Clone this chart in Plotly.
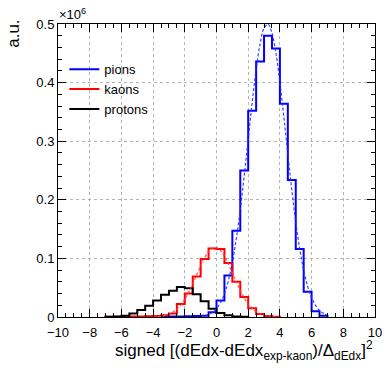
import plotly.graph_objects as go

# ---------------- data (values in units of 10^6 entries) ----------------
BIN_W = 0.5
pion_first_edge = -4.5
pion_vals = [0.0003, 0.0005, 0.0007, 0.001, 0.001, 0.0012, 0.0015, 0.002,
             0.008, 0.028, 0.071, 0.147, 0.250, 0.352, 0.436, 0.480, 0.458,
             0.364, 0.234, 0.116, 0.043, 0.010, 0.002]

kaon_first_edge = -7.0
kaon_vals = [0.0003, 0.0003, 0.0005, 0.0007, 0.001, 0.0012, 0.0015, 0.003,
             0.006, 0.022, 0.040, 0.069, 0.099, 0.117, 0.116, 0.092, 0.060,
             0.034, 0.015, 0.005, 0.0015, 0.0005]

proton_first_edge = -7.0
proton_vals = [0.0003, 0.001, 0.002, 0.006, 0.012, 0.019, 0.028, 0.038,
               0.045, 0.051, 0.049, 0.039, 0.027, 0.014, 0.007, 0.003,
               0.001, 0.0003]

# dashed fit curves
pion_fit_x = [-1.0, -0.75, -0.5, -0.25, 0.0, 0.25, 0.5, 0.75, 1.0, 1.25, 1.5,
              1.75, 2.0, 2.25, 2.5, 2.75, 3.0, 3.25, 3.5, 3.75, 4.0, 4.25,
              4.5, 4.75, 5.0, 5.25, 5.5, 5.75, 6.0, 6.25, 6.5, 6.75, 7.0]
pion_fit_y = [0.0011, 0.0022, 0.0043, 0.0080, 0.0143, 0.0244, 0.0398, 0.0622,
              0.0931, 0.1336, 0.1834, 0.2410, 0.3033, 0.3655, 0.4218, 0.4661,
              0.4931, 0.4996, 0.4846, 0.4502, 0.4004, 0.3410, 0.2781, 0.2171,
              0.1623, 0.1162, 0.0797, 0.0523, 0.0329, 0.0198, 0.0114, 0.0063,
              0.0033]

kaon_fit_x = [-4.0, -3.75, -3.5, -3.25, -3.0, -2.75, -2.5, -2.25, -2.0, -1.75,
              -1.5, -1.25, -1.0, -0.75, -0.5, -0.25, 0.0, 0.25, 0.5, 0.75,
              1.0, 1.25, 1.5, 1.75, 2.0, 2.25, 2.5, 2.75, 3.0, 3.25, 3.5,
              3.75, 4.0]
kaon_fit_y = [0.0004, 0.0008, 0.0015, 0.0028, 0.0050, 0.0084, 0.0135, 0.0207,
              0.0304, 0.0425, 0.0567, 0.0722, 0.0876, 0.1014, 0.1120, 0.1180,
              0.1185, 0.1136, 0.1039, 0.0906, 0.0753, 0.0598, 0.0452, 0.0326,
              0.0225, 0.0148, 0.0092, 0.0055, 0.0031, 0.0017, 0.0009, 0.0004,
              0.0002]

x_tickvals = [-10, -8, -6, -4, -2, 0, 2, 4, 6, 8, 10]
y_tickvals = [0, 0.1, 0.2, 0.3, 0.4, 0.5]
y_ticktext = ["0", "0.1", "0.2", "0.3", "0.4", "0.5"]


def step_xy(first_edge, vals):
    xs, ys = [first_edge], [0.0]
    for i, v in enumerate(vals):
        xs.append(first_edge + i * BIN_W)
        ys.append(v)
    xs.append(first_edge + len(vals) * BIN_W)
    ys.append(vals[-1])
    xs.append(first_edge + len(vals) * BIN_W)
    ys.append(0.0)
    return xs, ys


FONT = "Liberation Sans, Arial, Helvetica, sans-serif"
fig = go.Figure()

for name, fe, vals, col in [("pions", pion_first_edge, pion_vals, "#0000ff"),
                            ("kaons", kaon_first_edge, kaon_vals, "#ff0000"),
                            ("protons", proton_first_edge, proton_vals, "#000000")]:
    xs, ys = step_xy(fe, vals)
    fig.add_trace(go.Scatter(x=xs, y=ys, mode="lines", name=name,
                             line=dict(color=col, width=2, shape="hv")))

fig.add_trace(go.Scatter(x=pion_fit_x, y=pion_fit_y, mode="lines", showlegend=False,
                         line=dict(color="rgba(40,40,255,0.9)", width=1.2, dash="3px,2px", shape="spline")))
fig.add_trace(go.Scatter(x=kaon_fit_x, y=kaon_fit_y, mode="lines", showlegend=False,
                         line=dict(color="rgba(255,60,60,0.9)", width=1.2, dash="3px,2px", shape="spline")))

# white box behind legend (hides grid lines)
fig.add_shape(type="rect", xref="paper", yref="paper",
              x0=0.046, x1=0.435, y0=0.678, y1=0.877,
              fillcolor="white", line=dict(width=0), layer="between")

axis_common = dict(showline=True, linecolor="black", linewidth=1, mirror="allticks",
                   ticks="inside", ticklen=8, tickcolor="black", tickwidth=1,
                   showgrid=True, gridcolor="#b4b4b4", griddash="dot", gridwidth=1,
                   zeroline=False, tickfont=dict(family=FONT, size=13, color="black"))

fig.update_xaxes(range=[-10, 10], tickvals=x_tickvals, ticklabeloverflow="allow",
                 ticklabelstandoff=3,
                 minor=dict(ticks="inside", ticklen=4, dtick=0.5, tick0=0,
                            tickcolor="black", showgrid=False),
                 **axis_common)
fig.update_yaxes(range=[0, 0.5], tickvals=y_tickvals, ticktext=y_ticktext,
                 minor=dict(ticks="inside", ticklen=4, dtick=0.02, tick0=0,
                            tickcolor="black", showgrid=False),
                 **axis_common)

fig.add_annotation(text="a.u.", xref="paper", yref="paper", x=-0.14, y=1.02,
                   xanchor="center", yanchor="top", textangle=-90, showarrow=False,
                   font=dict(family=FONT, size=17, color="black"))
fig.add_annotation(text="×10<sup>6</sup>", xref="paper", yref="paper", x=-0.003, y=1.0,
                   xanchor="left", yanchor="bottom", showarrow=False,
                   font=dict(family=FONT, size=13, color="black"))
fig.add_annotation(text="signed [(dEdx-dEdx<sub>exp-kaon</sub>)/Δ<sub>dEdx</sub>]<sup>2</sup>",
                   xref="paper", yref="paper", x=1.0, y=-0.066,
                   xanchor="right", yanchor="top", showarrow=False,
                   font=dict(family=FONT, size=17, color="black"))

fig.update_layout(
    width=386, height=370,
    margin=dict(l=58, r=4, t=24, b=53),
    plot_bgcolor="white", paper_bgcolor="white",
    showlegend=True,
    legend=dict(x=0.02, y=0.897, xanchor="left", yanchor="top",
                bgcolor="rgba(0,0,0,0)", borderwidth=0, tracegroupgap=0,
                font=dict(family=FONT, size=13, color="black")),
)

fig.write_html("out.html")
